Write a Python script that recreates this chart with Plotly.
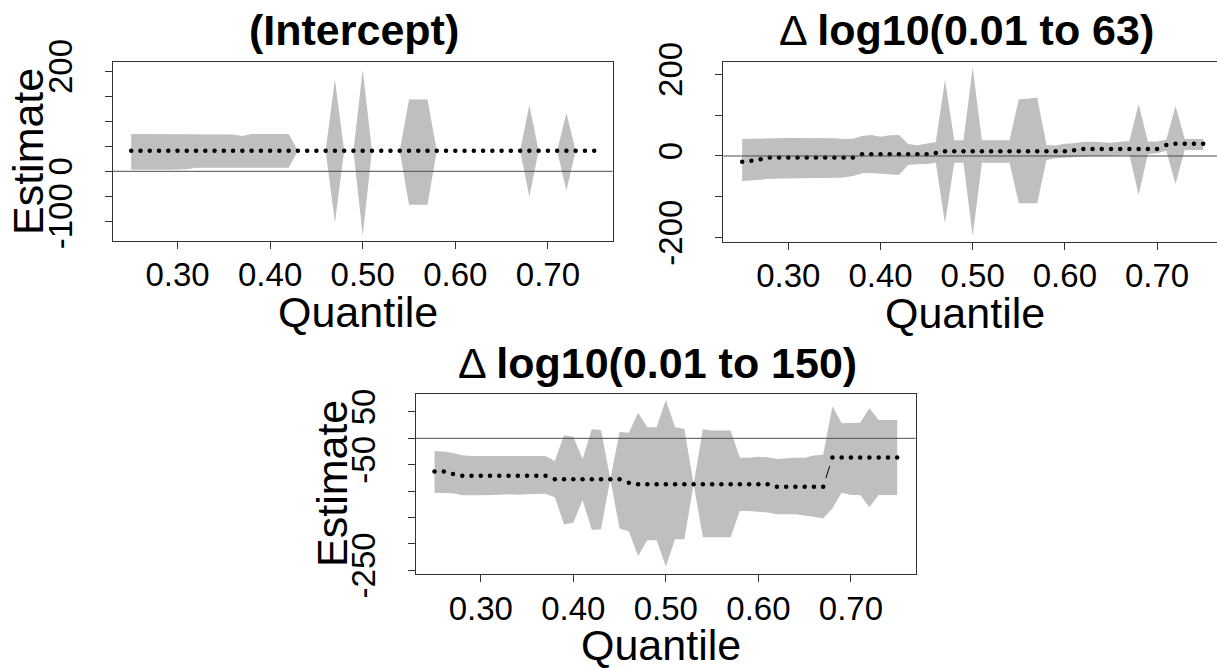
import math
import plotly.graph_objects as go

# ---------------- data ----------------
taus = [0.25, 0.26, 0.27, 0.28, 0.29, 0.30, 0.31, 0.32, 0.33, 0.34,
        0.35, 0.36, 0.37, 0.38, 0.39, 0.40, 0.41, 0.42, 0.43, 0.44,
        0.45, 0.46, 0.47, 0.48, 0.49, 0.50, 0.51, 0.52, 0.53, 0.54,
        0.55, 0.56, 0.57, 0.58, 0.59, 0.60, 0.61, 0.62, 0.63, 0.64,
        0.65, 0.66, 0.67, 0.68, 0.69, 0.70, 0.71, 0.72, 0.73, 0.74, 0.75]

# (Intercept)
est_intercept = [41, 41, 41, 41, 41, 41, 41, 41, 41, 41,
                 41, 41, 41, 41, 41, 41, 41, 41, 41, 41,
                 41, 41, 41, 41, 41, 41, 41, 41, 41, 41,
                 41, 41, 41, 41, 41, 41, 41, 41, 41, 41,
                 41, 41, 41, 41, 41, 41, 41, 41, 41, 41, 41]
upper_intercept = [75, 75, 75, 75, 75, 75, 75, 75, 75, 75,
                   75, 74, 71, 75, 75, 75, 75, 75, 41, 41,
                   41, 41, 184, 41, 41, 204, 41, 41, 41, 41,
                   144, 144, 144, 41, 41, 41, 41, 41, 41, 41,
                   41, 41, 41, 133, 41, 41, 41, 117, 41, 41, 41]
lower_intercept = [3, 3, 3, 3, 3, 3, 4, 7, 7, 7,
                   7, 7, 7, 7, 7, 7, 7, 7, 41, 41,
                   41, 41, -103, 41, 41, -129, 41, 41, 41, 41,
                   -67, -67, -67, 41, 41, 41, 41, 41, 41, 41,
                   41, 41, 41, -51, 41, 41, 41, -39, 41, 41, 41]

# delta log10(0.01 to 63)
est_63 = [-14, -11.5, -8, -4, -4, -4, -4, -4, -4, -4,
          -4, -4, -4, 4, 4, 4, 4, 4, 4, 4,
          4, 7.5, 11.5, 11.5, 11.5, 11.5, 11.5, 11.5, 11.5, 11.5,
          11.5, 11.5, 11.5, 11.5, 11.5, 11.5, 14, 17, 17, 17,
          17, 17, 17, 17, 17, 17, 27, 30, 30, 30, 30]
upper_63 = [41.7, 42.5, 43.4, 44.2, 44.2, 44.2, 44.2, 44.2, 43.4, 44.2,
            43.4, 41.7, 42.5, 49, 51.5, 47.4, 50.7, 51.5, 29.4, 26.2,
            31, 34.4, 186.5, 38.5, 38.5, 216.7, 38.5, 38.5, 38.5, 38.5,
            139, 140, 143, 27, 25.8, 29.9, 31.5, 34.8, 34.8, 34,
            32.7, 34.8, 36.8, 127.6, 34.8, 35.6, 39.7, 122.7, 41.4, 41.4, 41.4]
lower_63 = [-61.3, -60.5, -58, -55.6, -54, -54, -54, -54, -54, -54,
            -54, -53, -49, -42.5, -41.7, -43.3, -45, -46.6, -22, -20.4,
            -19.6, -16.4, -165.6, -16.4, -16.4, -196, -16.4, -16.4, -16.4, -16.4,
            -116, -116, -116, -9.8, -5.7, -3.3, -3.3, -1.6, 0, 0,
            0, 1, 2.5, -95.7, 4, 6.5, 13, -68.7, 14.7, 14.7, 14.7]

# delta log10(0.01 to 150)
est_150 = [-63, -63, -67.5, -71, -71, -71, -71, -71, -71, -71,
           -71, -71, -71, -77.5, -77.5, -77.5, -77.5, -77.5, -77.5, -77.5,
           -77.5, -84, -87, -87, -87, -87, -87, -87, -87, -87,
           -87, -87, -87, -87, -87, -87, -87, -91.5, -91.5, -91.5,
           -91.5, -91.5, -91.5, -36.5, -36.5, -36.5, -36.5, -36.5, -36.5, -36.5, -36.5]
upper_150 = [-24.6, -25, -28, -32, -33.5, -33.5, -33.5, -33.5, -33.5, -33.5,
             -33.5, -33.5, -33.5, -43, 6, 3, -39, 17, 16, -77.5,
             12, 10.5, 48.5, 21, 21, 72.5, 21, 18, -87, 17,
             15, 15, 15, -36.7, -36.7, -35, -36, -39, -37.3, -37,
             -36.7, -32.4, -31, 61, 28.4, 29.7, 29.7, 56.8, 34.7, 34.7, 34.7]
lower_150 = [-103, -103, -104, -108, -108, -108, -108, -107, -106, -107,
             -106, -105, -105, -111.6, -163, -160, -117, -173.5, -172, -77.5,
             -171, -176, -223, -193, -193, -243, -191.4, -191.4, -87, -187.6,
             -187.6, -187.6, -187.6, -137, -137.6, -138.8, -140.5, -143.6, -143.6, -143.6,
             -146.7, -148.6, -151.8, -132.6, -103, -107.4, -107.4, -130.7, -107.4, -107.4, -107.4]

titles = ["<b>(Intercept)</b>", "Δ <b>log10(0.01 to 63)</b>", "Δ <b>log10(0.01 to 150)</b>"]
x_tick_vals = [0.30, 0.40, 0.50, 0.60, 0.70]
x_tick_text = ["0.30", "0.40", "0.50", "0.60", "0.70"]
y_ticks_1 = [-100, -50, 0, 50, 100, 150, 200]
y_text_1 = ["-100", "", "0", "", "", "", "200"]
y_ticks_2 = [-200, -100, 0, 100, 200]
y_text_2 = ["-200", "", "0", "", "200"]
y_ticks_3 = [-250, -200, -150, -100, -50, 0, 50]
y_text_3 = ["-250", "", "", "", "-50", "", "50"]

# ---------------- layout helpers ----------------
W, H = 1217, 668
FONT = "Liberation Sans"
BAND = "#BFBFBF"
AXC = "#333333"


def fx(p):
    return p / W


def fy(p):
    return 1 - p / H


panels = [
    dict(est=est_intercept, up=upper_intercept, lo=lower_intercept,
         box=(112.7, 612.7, 62.0, 240.7), xr=[0.23, 0.77], yr=[-139, 219],
         yt=y_ticks_1, ytt=y_text_1, title=titles[0], tx=354, ylab=True, mirror_y=True),
    dict(est=est_63, up=upper_63, lo=lower_63,
         box=(723.3, 1217.0, 61.7, 241.7), xr=[0.2295, 0.765], yr=[-210, 231],
         yt=y_ticks_2, ytt=y_text_2, title=titles[1], tx=966, ylab=False, mirror_y=False),
    dict(est=est_150, up=upper_150, lo=lower_150,
         box=(416.0, 915.7, 394.0, 574.0), xr=[0.23, 0.77], yr=[-257, 84],
         yt=y_ticks_3, ytt=y_text_3, title=titles[2], tx=657, ylab=True, mirror_y=True),
]


def b_segments(x, y, xr, yr, wpx, hpx, gap=9.0):
    """Segments of an R type='b' line: only visible where points are far apart."""
    sx = wpx / (xr[1] - xr[0])
    sy = hpx / (yr[1] - yr[0])
    xs, ys = [], []
    for i in range(len(x) - 1):
        dx = (x[i + 1] - x[i]) * sx
        dy = (y[i + 1] - y[i]) * sy
        d = math.hypot(dx, dy)
        if d > 2 * gap:
            f = gap / d
            xs += [x[i] + (x[i + 1] - x[i]) * f, x[i + 1] - (x[i + 1] - x[i]) * f, None]
            ys += [y[i] + (y[i + 1] - y[i]) * f, y[i + 1] - (y[i + 1] - y[i]) * f, None]
    return xs, ys


fig = go.Figure()
layout = dict(width=W, height=H,
              margin=dict(l=0, r=0, t=0, b=0, pad=0, autoexpand=False),
              paper_bgcolor="white", plot_bgcolor="white", showlegend=False,
              annotations=[], shapes=[])

for k, p in enumerate(panels, start=1):
    xa = "x" if k == 1 else f"x{k}"
    ya = "y" if k == 1 else f"y{k}"
    x0, x1, y0, y1 = p["box"]
    # band polygon
    fig.add_trace(go.Scatter(
        x=taus + taus[::-1], y=p["up"] + p["lo"][::-1],
        fill="toself", fillcolor=BAND, line=dict(width=0, color=BAND),
        mode="lines", hoverinfo="skip", xaxis=xa, yaxis=ya))
    # estimate points
    fig.add_trace(go.Scatter(
        x=taus, y=p["est"], mode="markers",
        marker=dict(size=4.5, color="black", line=dict(width=0)),
        xaxis=xa, yaxis=ya))
    sx, sy = b_segments(taus, p["est"], p["xr"], p["yr"], x1 - x0, y1 - y0)
    if sx:
        fig.add_trace(go.Scatter(x=sx, y=sy, mode="lines",
                                 line=dict(color="black", width=1),
                                 xaxis=xa, yaxis=ya))

    xkey = "xaxis" if k == 1 else f"xaxis{k}"
    ykey = "yaxis" if k == 1 else f"yaxis{k}"
    layout[xkey] = dict(domain=[fx(x0), fx(x1)], range=p["xr"], anchor=ya,
                        automargin=False,
                        showgrid=False, zeroline=False, showline=True,
                        linecolor=AXC, linewidth=1, mirror=True,
                        ticks="outside", ticklen=7, tickcolor=AXC, tickwidth=1,
                        tickvals=x_tick_vals, ticktext=x_tick_text,
                        tickfont=dict(family=FONT, size=33, color="black"),
                        ticklabelstandoff=-2)
    layout[ykey] = dict(domain=[fy(y1), fy(y0)], range=p["yr"], anchor=xa,
                        automargin=False,
                        showgrid=False, zeroline=False, showline=True,
                        linecolor=AXC, linewidth=1, mirror=p["mirror_y"],
                        ticks="outside", ticklen=7, tickcolor=AXC, tickwidth=1,
                        tickvals=p["yt"], ticktext=p["ytt"], tickangle=-90,
                        tickfont=dict(family=FONT, size=33, color="black"),
                        ticklabelstandoff=20)
    # zero reference line
    layout["shapes"].append(dict(type="line", xref=f"{xa} domain", x0=0, x1=1,
                                 yref=ya, y0=0, y1=0,
                                 line=dict(color="#4D4D4D", width=1), layer="above"))
    # main title
    layout["annotations"].append(dict(text=p["title"], x=fx(p["tx"]), y=fy(y0 - 31.5),
                                      xref="paper", yref="paper", xanchor="center",
                                      yanchor="middle", showarrow=False,
                                      font=dict(family=FONT, size=43, color="black")))
    # x axis title
    layout["annotations"].append(dict(text="Quantile", x=fx((x0 + min(x1, 1224)) / 2 - 5),
                                      y=fy(y1 + 71), xref="paper", yref="paper",
                                      xanchor="center", yanchor="middle", showarrow=False,
                                      font=dict(family=FONT, size=43, color="black")))
    if p["ylab"]:
        layout["annotations"].append(dict(text="Estimate", x=fx(x0 - 84), y=fy((y0 + y1) / 2),
                                          xref="paper", yref="paper", textangle=-90,
                                          xanchor="center", yanchor="middle", showarrow=False,
                                          font=dict(family=FONT, size=43, color="black")))

fig.update_layout(**layout)
fig.write_html("out.html")
